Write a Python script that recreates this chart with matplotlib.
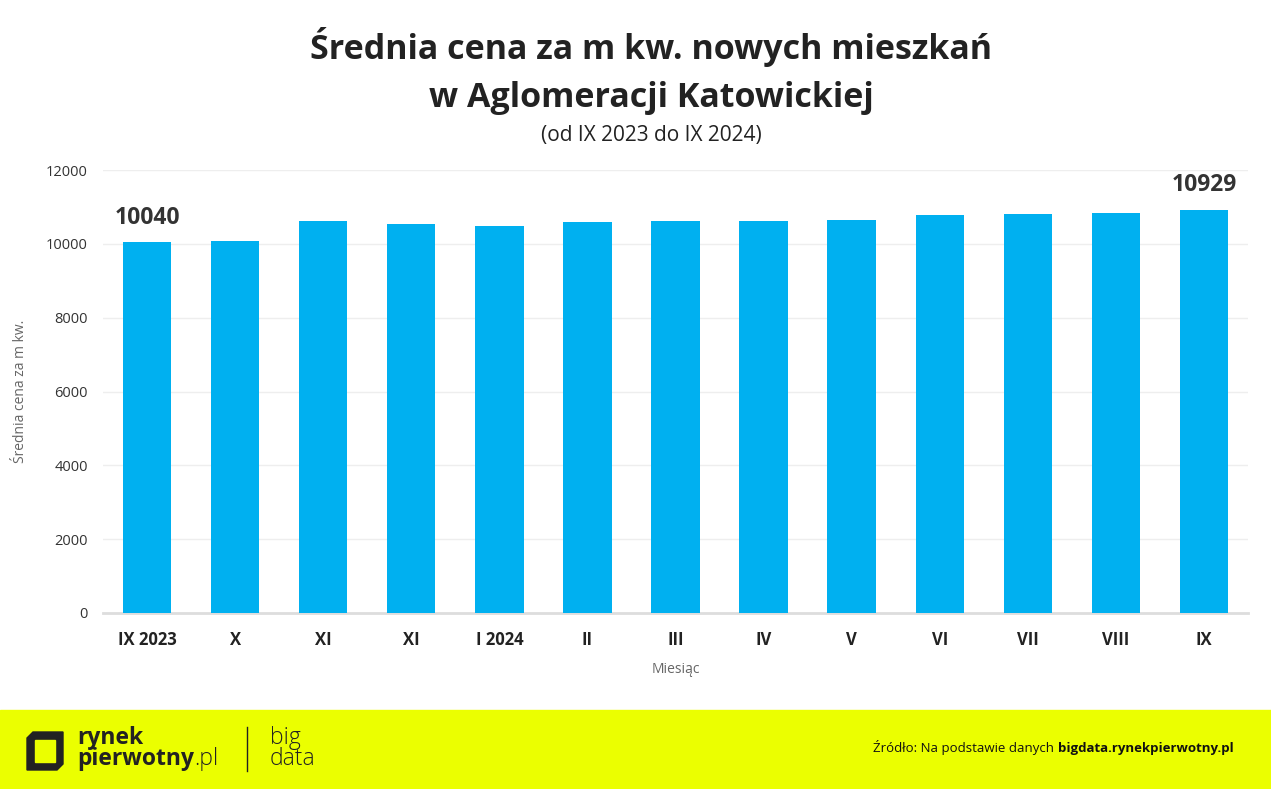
import matplotlib.pyplot as plt
from matplotlib.patches import Rectangle, Polygon

plt.rcParams['font.family'] = ['Open Sans', 'DejaVu Sans']

months = ['IX 2023', 'X', 'XI', 'XI', 'I 2024', 'II', 'III', 'IV', 'V', 'VI', 'VII', 'VIII', 'IX']
prices = [10040, 10070, 10620, 10550, 10480, 10600, 10625, 10625, 10650, 10790, 10800, 10830, 10929]
yticks = [0, 2000, 4000, 6000, 8000, 10000, 12000]

W, H = 1271, 789
fig = plt.figure(figsize=(W / 100, H / 100), dpi=100)
ax = fig.add_axes([103 / W, 1 - 613 / H, (1248 - 103) / W, (613 - 170) / H])

x = range(len(months))
ax.bar(x, prices, width=0.55, color='#00B0F0', zorder=3)
ax.set_xlim(-0.5, len(months) - 0.5)
ax.set_ylim(0, 12000)
ax.set_yticks(yticks)
ax.set_yticklabels([str(v) for v in yticks], fontsize=10.5, color='#333333')
ax.set_xticks(list(x))
ax.set_xticklabels(months, fontsize=12, fontweight='bold', color='#222222')
ax.tick_params(axis='both', length=0)
ax.tick_params(axis='x', pad=13)
ax.tick_params(axis='y', pad=11)
ax.grid(axis='y', color='#EEEEEE', linewidth=1, zorder=0)
for s in ['top', 'right', 'left']:
    ax.spines[s].set_visible(False)
ax.spines['bottom'].set_color('#DDDDDD')
ax.spines['bottom'].set_linewidth(2)

ax.set_xlabel('Miesiąc', fontsize=10, color='#666666', labelpad=9)
ax.set_ylabel('Średnia cena za m kw.', fontsize=10, color='#666666')
ax.yaxis.set_label_coords((28 - 103) / (1248 - 103), 0.5)

for i in [0, len(prices) - 1]:
    ax.annotate(str(prices[i]), (i, prices[i]), xytext=(0, 9), textcoords='offset points',
                ha='center', va='bottom', fontsize=16.5, fontweight='bold', color='#333333')

fig.text(651 / W, 1 - 47 / H, 'Średnia cena za m kw. nowych mieszkań', ha='center', va='center',
         fontsize=24.5, fontweight='bold', color='#222222')
fig.text(651 / W, 1 - 98 / H, 'w Aglomeracji Katowickiej', ha='center', va='center',
         fontsize=24.5, fontweight='bold', color='#222222')
fig.text(651 / W, 1 - 135 / H, '(od IX 2023 do IX 2024)', ha='center', va='center',
         fontsize=15, color='#222222')

# footer
fig.patches.append(Rectangle((0, 0), 1, (H - 710) / H, transform=fig.transFigure,
                             color='#EBFF00', zorder=0))
px = lambda a, b: (a / W, 1 - b / H)
outer = [px(33, 732), px(63, 732), px(63, 764), px(57, 770), px(27, 770), px(27, 738)]
inner = [px(35, 740), px(55, 740), px(55, 762), px(35, 762)]
fig.patches.append(Polygon(outer, closed=True, transform=fig.transFigure, color='#222222'))
fig.patches.append(Polygon(inner, closed=True, transform=fig.transFigure, color='#EBFF00'))
t = fig.text(77 / W, 1 - 765 / H, 'rynek\npierwotny', ha='left', va='baseline', fontsize=16.5,
             fontweight='bold', color='#222222', linespacing=0.85)
r = fig.canvas.get_renderer()
bb = t.get_window_extent(r)
fig.text(bb.x1 / W, 1 - 765 / H, '.pl', ha='left', va='baseline', fontsize=16.5,
         fontweight='light', color='#222222')
fig.add_artist(plt.Line2D([247 / W, 247 / W], [1 - 727 / H, 1 - 771 / H], color='#222222', lw=1))
fig.text(270 / W, 1 - 765 / H, 'big\ndata', ha='left', va='baseline', fontsize=16.5,
         fontweight='light', color='#222222', linespacing=0.85)

sb = fig.text(1234 / W, 1 - 752 / H, 'bigdata.rynekpierwotny.pl', ha='right', va='baseline',
              fontsize=9.5, fontweight='bold', color='#111111')
bb2 = sb.get_window_extent(r)
fig.text((bb2.x0 - 4) / W, 1 - 752 / H, 'Źródło: Na podstawie danych', ha='right', va='baseline',
         fontsize=9.5, color='#111111')

fig.savefig('out.png', dpi=100)
